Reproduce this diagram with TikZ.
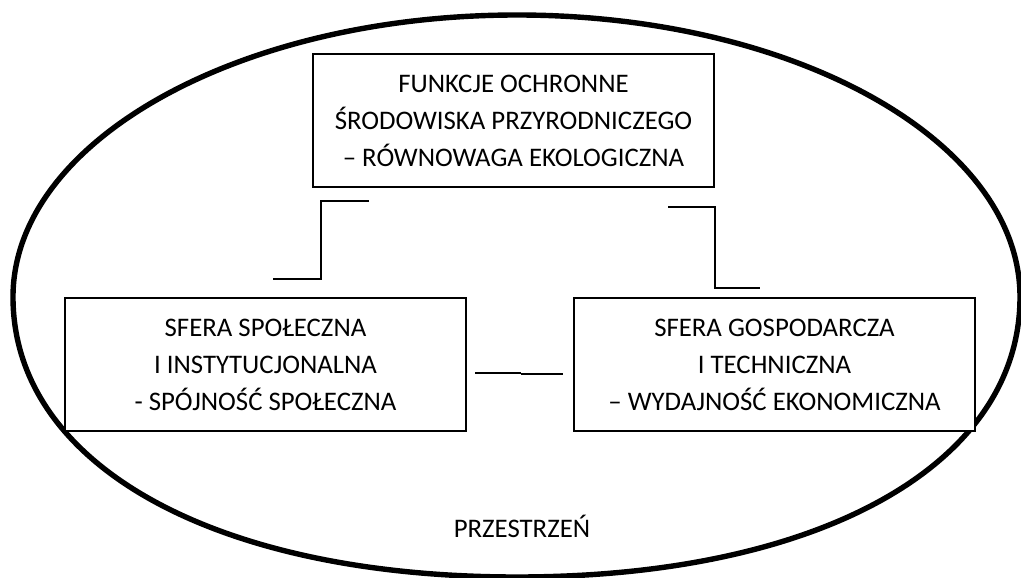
\documentclass[tikz,border=0pt]{standalone}
\usepackage{fontspec}
\setmainfont{Carlito}
\begin{document}
\begin{tikzpicture}[x=1pt,y=-1pt,
  txt/.style={font=\fontsize{26.8pt}{37pt}\selectfont},
  box/.style={draw, line width=1.3pt, fill=white, minimum width=401pt, minimum height=133pt,
    align=center, inner sep=0pt, txt},
  link/.style={line width=2pt},
  rim/.style={line width=5.4pt}]
\useasboundingbox (0,0) rectangle (1021,578);
\clip (0,0) rectangle (1021,578);
% outer space
\coordinate (L) at (13,297);
\coordinate (T) at (517,15);
\coordinate (R) at (1020,297);
\coordinate (B) at (517,577);
\draw[rim] (L) .. controls (13,141.3) and (238.6,15) .. (T)
  .. controls (795.4,15) and (1020,141.3) .. (R)
  .. controls (1020,465) and (819,577) .. (B)
  .. controls (215,577) and (13,465) .. (L) -- cycle;
% boxes
\node[box] (top) at (513.5,120.5) {FUNKCJE OCHRONNE\\ŚRODOWISKA PRZYRODNICZEGO\\– RÓWNOWAGA EKOLOGICZNA};
\node[box] (soc) at (265.5,364.5) {SFERA SPOŁECZNA\\I INSTYTUCJONALNA\\- SPÓJNOŚĆ SPOŁECZNA};
\node[box] (eco) at (774.5,364.5) {SFERA GOSPODARCZA\\I TECHNICZNA\\– WYDAJNOŚĆ EKONOMICZNA};
\node[txt, anchor=base] (space) at (522,537) {PRZESTRZEŃ};
% connectors
\coordinate (a1) at (369,201);
\coordinate (a2) at (321,201);
\coordinate (a3) at (321,279);
\coordinate (a4) at (273,279);
\draw[link] (a1) -- (a2) -- (a3) -- (a4);
\coordinate (b1) at (668,207);
\coordinate (b2) at (715,207);
\coordinate (b3) at (715,288);
\coordinate (b4) at (760,288);
\draw[link] (b1) -- (b2) -- (b3) -- (b4);
\coordinate (c1) at (475,372.5);
\coordinate (c2) at (521,372.5);
\coordinate (c3) at (521,374);
\coordinate (c4) at (563,374);
\draw[link] (c1) -- (c2);
\draw[link] (c3) -- (c4);
\end{tikzpicture}
\end{document}
